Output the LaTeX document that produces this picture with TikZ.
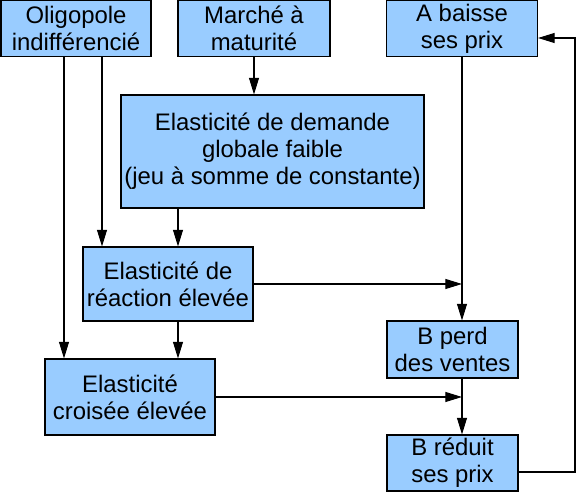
\documentclass[tikz,border=0pt]{standalone}
\usepackage{fontspec}
\setmainfont{Liberation Sans}
\usetikzlibrary{arrows.meta}

\definecolor{bleu}{RGB}{153,204,255}
\tikzset{
  boite/.style={draw, fill=bleu, line width=0.6pt, align=center, inner sep=0pt,
    font=\fontsize{13.6}{15.4}\selectfont},
  taille/.style 2 args={minimum width=#1*0.2mm, minimum height=#2*0.2mm},
  fleche/.style={line width=0.6pt, -{Triangle[length=9.5pt,width=5.7pt]}}
}

\begin{document}
\begin{tikzpicture}[x=0.2mm,y=-0.2mm]

          \useasboundingbox (0,0) rectangle (576,492);

          \node[boite, taille={150}{56}] (olig) at (76,28.5) {Oligopole\\indifférencié};
          \node[boite, taille={152}{56}] (marche) at (254,28.5) {Marché à\\maturité};
          \node[boite, taille={151}{56}] (abaisse) at (462,28.5) {A baisse\\ses prix};
          \node[boite, taille={303}{113}] (demande) at (272.5,151.5) {Elasticité de demande\\globale faible\\(jeu à somme de constante)};
          \node[boite, taille={170}{74}] (reaction) at (168,284) {Elasticité de\\réaction élevée};
          \node[boite, taille={170}{76}] (croisee) at (130,397) {Elasticité\\croisée élevée};
          \node[boite, taille={131}{57}] (bperd) at (452.5,349.5) {B perd\\des ventes};
          \node[boite, taille={131}{56}] (breduit) at (452.5,463) {B réduit\\ses prix};

          \coordinate (xa) at (64,0);
          \coordinate (xb) at (102,0);
          \coordinate (xc) at (178,0);
          \coordinate (coin bas) at (575,472);
          \coordinate (coin haut) at (575,38);

          \draw[fleche] (olig.south -| xa) -- (croisee.north -| xa);
          \draw[fleche] (olig.south -| xb) -- (reaction.north -| xb);
          \draw[fleche] (marche.south) -- (marche.south |- demande.north);

          \foreach \haut/\bas in {demande/reaction,reaction/croisee}{
            \draw[fleche] (\haut.south -| xc) -- (\bas.north -| xc);
          }

          \foreach \gauche in {reaction,croisee}{
            \draw[fleche] (\gauche.east) -- (\gauche.east -| abaisse.south);
          }

          \draw[fleche] (abaisse.south) -- (abaisse.south |- bperd.north);
          \draw[fleche] (bperd.south -| abaisse.south) -- (breduit.north -| abaisse.south);
          \draw[fleche] (breduit.east |- coin bas) -- (coin bas) -- (coin haut) -- (abaisse.east |- coin haut);

        \end{tikzpicture}
\end{document}
